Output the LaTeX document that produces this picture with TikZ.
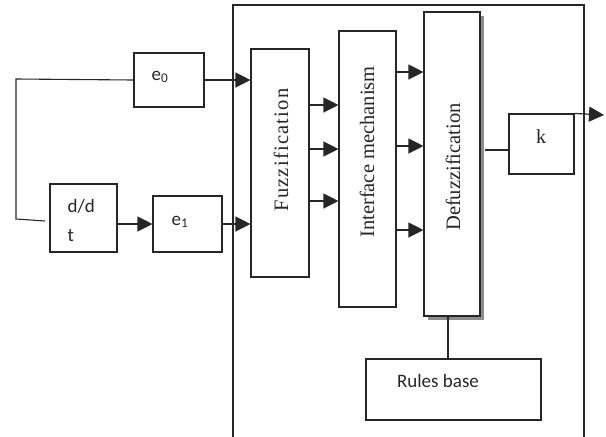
\documentclass[tikz,border=0pt]{standalone}
\usepackage{fontspec}
\setmainfont{Liberation Serif}
\newfontfamily\calfont{Carlito}
\usetikzlibrary{positioning, arrows.meta, shadows}

\tikzset{
  box/.style={draw, line width=1.1pt, fill=white, inner sep=0pt},
  arr/.style={-{Triangle[length=15pt,width=15pt]}, line width=1.2pt},
  lbl/.style={font=\calfont\fontsize{19}{29}\selectfont},
  vlbl/.style={rotate=90, font=\fontsize{20.5}{24}\selectfont},
}

\begin{document}
\begin{tikzpicture}[x=1pt,y=-1pt,line width=1.1pt,color=black!85]
\useasboundingbox (0,0) rectangle (606,437);
% controller frame
\draw[line width=1.3pt] (233,437) -- (233,5) -- (584,5) -- (584,437);

% blocks
\node[box, minimum width=70, minimum height=54] (e0) at (169,80) {};
\node[box, minimum width=67, minimum height=68] (ddt) at (83.5,218) {};
\node[box, minimum width=69, minimum height=56] (e1) at (187.5,224) {};
\node[box, minimum width=58, minimum height=228] (fuzz) at (280,163) {};
\node[box, minimum width=57, minimum height=276] (inter) at (367.5,169) {};
\node[box, minimum width=56, minimum height=304,
      drop shadow={shadow xshift=4pt, shadow yshift=-4pt, fill=black!45, opacity=1}] (defuzz) at (452,164) {};
\node[box, minimum width=65, minimum height=60] (k) at (541.5,144) {};
\node[box, minimum width=175, minimum height=61] (rules) at (453.5,389.5) {};

% texts
\node[lbl] (e0txt) at (160,77) {e\textsubscript{0}};
\node[lbl] (e1txt) at (180,222) {e\textsubscript{1}};
\node[lbl, align=left, anchor=west, inner sep=0pt] (ddttxt) at (67,220) {d/d\\t};
\node[font=\fontsize{20}{24}\selectfont] (ktxt) at (541,137) {k};
\node[lbl] (rulestxt) at (438,381) {Rules base};
\node[vlbl] (fuzztxt) at (281,150) {\addfontfeatures{LetterSpace=6}Fuzzification};
\node[vlbl] (intertxt) at (367,152) {Interface mechanism};
\node[vlbl] (defuzztxt) at (453,167) {Defuzzification};

% feedback tap
\coordinate (fbtop) at (16,79);
\coordinate (fbbot) at (16,219);
\coordinate (fbend) at (45,221);
\coordinate (uout) at (604,115);
\draw (e0.west) -- (fbtop) -- (fbbot) -- (fbend);

% signal flow
\path[arr]
  (ddt.east |- e1.west) edge (e1.west)
  (e0.east) edge (fuzz.west |- e0.east)
  (e1.east) edge (fuzz.west |- e1.east)
  (k.north east) edge (uout);
\foreach \y in {105,149,201}
  \draw[arr] (fuzz.east |- 0,\y) -- (inter.west |- 0,\y);
\foreach \y in {72,146,230}
  \draw[arr] (inter.east |- 0,\y) -- (defuzz.west |- 0,\y);
\draw ([xshift=4pt]defuzz.east |- 0,150) -- (k.west |- 0,150);
\draw (defuzz.south -| 448,0) -- (rules.north -| 448,0);
\end{tikzpicture}
\end{document}
